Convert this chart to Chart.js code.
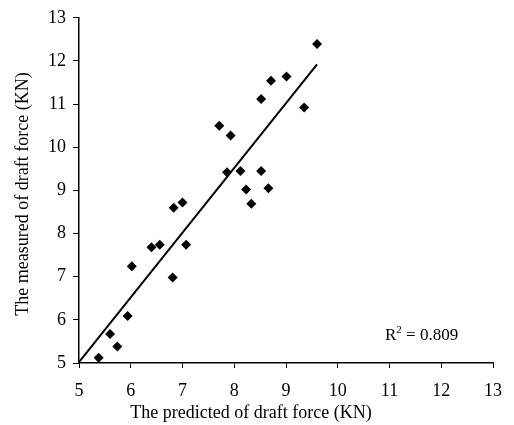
<!DOCTYPE html>
<html><head><meta charset="utf-8">
<script src="https://cdn.jsdelivr.net/npm/chart.js@4/dist/chart.umd.min.js"></script>
<style>html,body{margin:0;padding:0;background:#fff}#wrap{width:514px;height:425px;position:relative}</style>
</head><body><div id="wrap"><canvas id="c" width="514" height="425"></canvas></div>
<script>
const predicted = [5.38, 5.60, 5.74, 5.94, 6.02, 6.40, 6.56, 6.81, 7.07, 6.83, 7.00, 7.71, 7.93, 7.86, 8.12, 8.52, 8.23, 8.66, 8.33, 9.60, 8.71, 9.01, 8.52, 9.35];
const measured  = [5.12, 5.67, 5.38, 6.09, 7.24, 7.68, 7.74, 6.98, 7.74, 8.60, 8.72, 10.50, 10.27, 9.42, 9.45, 9.45, 9.02, 9.05, 8.69, 12.39, 11.54, 11.64, 11.12, 10.92];
const trendX = [5.0, 9.6];
const trendY = [5.02, 11.92];
const axisMin = 5;
const axisMax = 13;
const xTitle = 'The predicted of draft force (KN)';
const yTitle = 'The measured of draft force (KN)';
const r2Value = '0.809';

const FONT = '"Liberation Serif", "Times New Roman", serif';

const textPlugin = {
  id: 'texts',
  afterDraw(chart) {
    const ctx = chart.ctx;
    ctx.save();
    ctx.fillStyle = '#000';
    ctx.font = '18px ' + FONT;
    ctx.textAlign = 'center';
    ctx.textBaseline = 'alphabetic';
    ctx.fillText(xTitle, 251, 418);
    ctx.save();
    ctx.translate(28, 194);
    ctx.rotate(-Math.PI / 2);
    ctx.fillText(yTitle, 0, 0);
    ctx.restore();
    // R^2 annotation
    ctx.textAlign = 'left';
    ctx.font = '17px ' + FONT;
    let x = 385, y = 340;
    ctx.fillText('R', x, y);
    x += ctx.measureText('R').width;
    ctx.font = '11px ' + FONT;
    ctx.fillText('2', x, y - 7);
    x += ctx.measureText('2').width;
    ctx.font = '17px ' + FONT;
    ctx.fillText(' = ' + r2Value, x, y);
    ctx.restore();
  }
};

new Chart(document.getElementById('c'), {
  type: 'scatter',
  data: {
    datasets: [
      {
        label: 'data',
        data: predicted.map((v, i) => ({x: v, y: measured[i]})),
        pointStyle: 'rectRot',
        pointRadius: 5,
        pointBackgroundColor: '#000',
        pointBorderColor: '#000',
        pointBorderWidth: 0,
        showLine: false
      },
      {
        label: 'trend',
        type: 'line',
        data: trendX.map((v, i) => ({x: v, y: trendY[i]})),
        borderColor: '#000',
        borderWidth: 2,
        pointRadius: 0,
        fill: false
      }
    ]
  },
  options: {
    responsive: false,
    animation: false,
    devicePixelRatio: 1,
    layout: { padding: { top: 17, right: 11, left: 0, bottom: 0 } },
    plugins: { legend: { display: false }, tooltip: { enabled: false } },
    scales: {
      x: {
        type: 'linear',
        min: axisMin, max: axisMax,
        afterFit(s) { s.height = 62; },
        ticks: { stepSize: 1, color: '#000', font: { family: FONT, size: 18 }, padding: 12, maxRotation: 0 },
        grid: { drawOnChartArea: false, color: '#000', tickColor: '#000', tickLength: 5, tickWidth: 1 },
        border: { color: '#000', width: 1.5 }
      },
      y: {
        type: 'linear',
        min: axisMin, max: axisMax,
        afterFit(s) { s.width = 79; },
        ticks: { stepSize: 1, color: '#000', font: { family: FONT, size: 18 }, padding: 7 },
        grid: { drawOnChartArea: false, color: '#000', tickColor: '#000', tickLength: 6, tickWidth: 1 },
        border: { color: '#000', width: 1.5 }
      }
    }
  },
  plugins: [textPlugin]
});
</script>
</body></html>
